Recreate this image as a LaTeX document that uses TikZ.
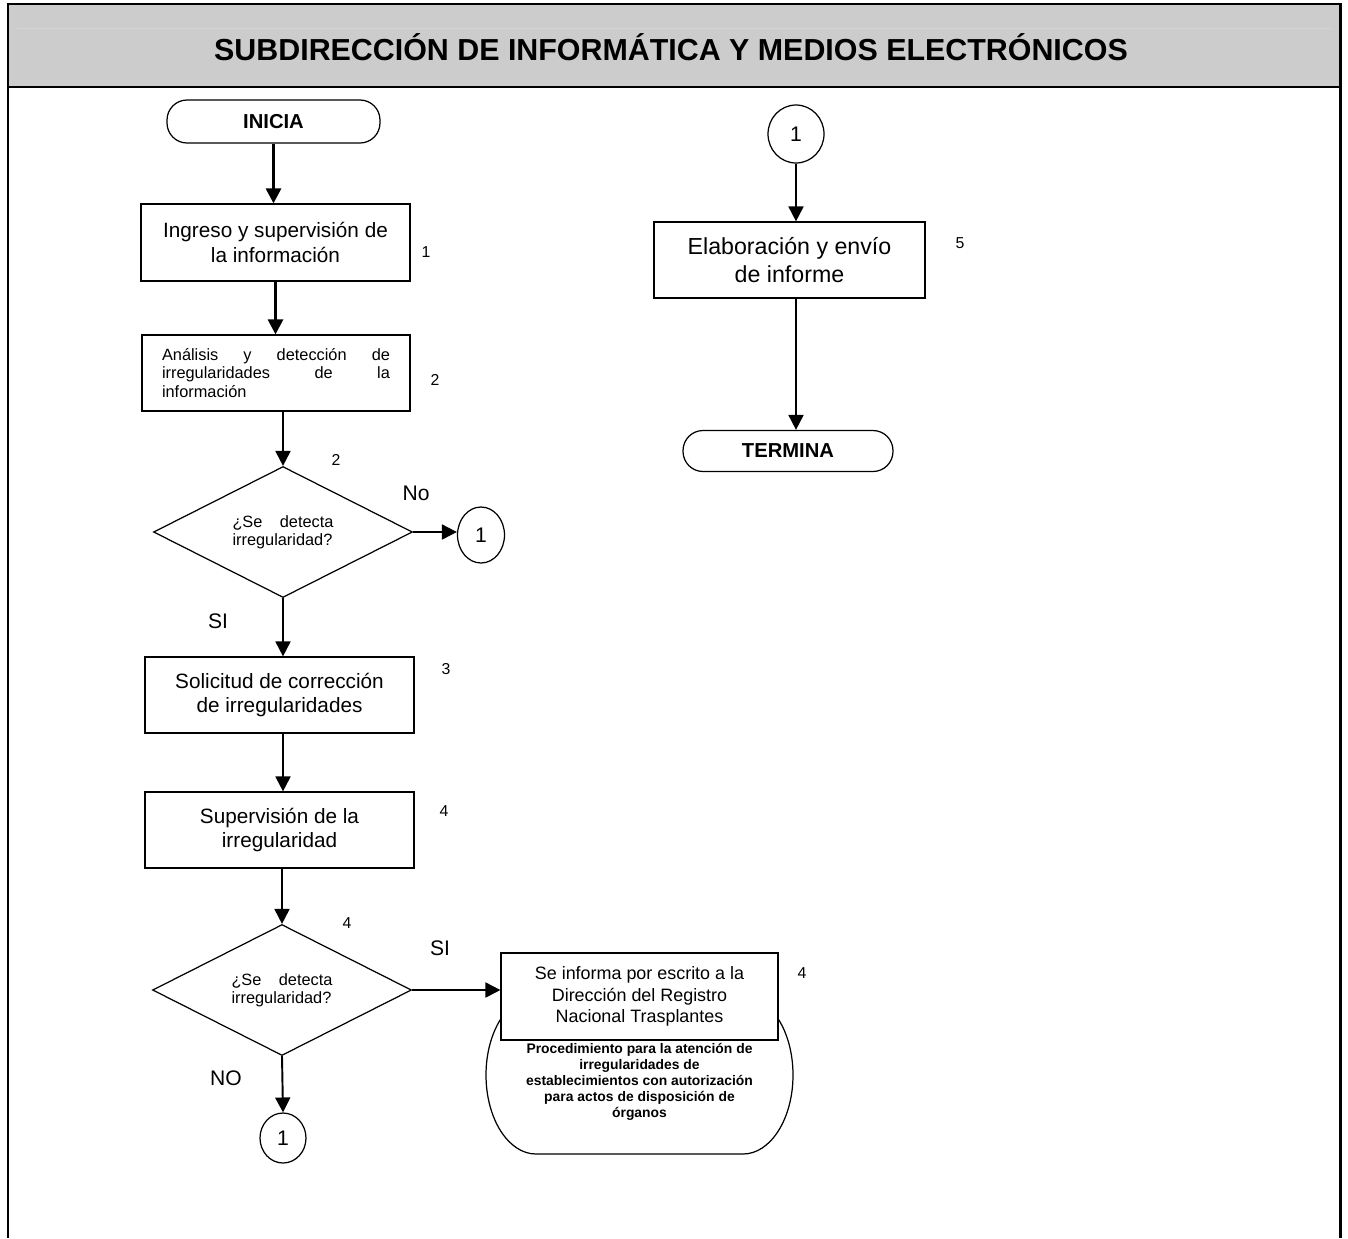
\documentclass[tikz,border=0pt]{standalone}
\usepackage{fontspec}
\setmainfont{Liberation Sans}
\usetikzlibrary{arrows.meta,shapes.geometric}

\begin{document}
\begin{tikzpicture}[x=0.02cm,y=-0.02cm]
\tikzset{proceso/.style = {shape=rectangle,draw,line width=0.7pt,fill=white,align=center,
    font=\fontsize{11.8}{14.2}\selectfont}}
\tikzset{terminal/.style = {shape=rectangle,draw,line width=0.7pt,rounded corners=0.4cm,
    font=\bfseries\fontsize{11.5}{13}\selectfont}}
\tikzset{decision/.style = {shape=diamond,draw,line width=0.7pt,aspect=2,inner sep=0pt,
    minimum width=5.18cm,minimum height=2.62cm,text width=2.02cm,align=justify,
    font=\fontsize{9.3}{10.2}\selectfont}}
\tikzset{conector/.style = {shape=ellipse,draw,line width=0.7pt,inner sep=0pt,
    font=\fontsize{12}{14}\selectfont}}
\tikzset{paso/.style = {font=\fontsize{9}{10}\selectfont}}
\tikzset{rama/.style = {font=\fontsize{12}{14}\selectfont}}
\tikzset{edge/.style = {-{Triangle[length=8.5pt,width=8.5pt]},line width=1.1pt}}
\tikzset{marco/.style = {line width=1.7pt}}

\useasboundingbox (0,0) rectangle (1348,1238);

% encabezado y marco
\fill[black!20] (8,4) rectangle (1340,87);
\draw[black!16,line width=0.5pt] (17,28) -- (1331,28);
\draw[marco] (8,1238) -- (8,4) -- (1340,4) -- (1340,1238);
\draw[marco] (8,87) -- (1340,87);
\node[font=\bfseries\fontsize{17.3}{20}\selectfont] (titulo) at (671,47)
  {SUBDIRECCIÓN DE INFORMÁTICA Y MEDIOS ELECTRÓNICOS};

% columna izquierda
\node[terminal,minimum width=4.26cm,minimum height=0.86cm] (inicia) at (273.5,121.5) {INICIA};
\node[proceso,minimum width=5.38cm,minimum height=1.54cm] (ingreso) at (275.5,242.5)
  {Ingreso y supervisión de\\la información};
\node[proceso,minimum width=5.36cm,minimum height=1.52cm,text width=4.56cm,align=justify,
  font=\fontsize{9.3}{10.7}\selectfont] (analisis) at (276,373)
  {Análisis y detección de\linebreak irregularidades de la\linebreak información};
\node[decision] (detecta) at (283,532) {¿Se detecta\linebreak irregularidad?};
\node[conector,minimum width=0.94cm,minimum height=1.12cm] (conB) at (481,535) {1};
\node[proceso,minimum width=5.38cm,minimum height=1.52cm] (solicitud) at (279.5,695)
  {Solicitud de corrección\\de irregularidades};
\node[proceso,minimum width=5.38cm,minimum height=1.52cm] (supervision) at (279.5,830)
  {Supervisión de la\\irregularidad};
\node[decision] (detecta2) at (282,990) {¿Se detecta\linebreak irregularidad?};
\node[conector,minimum width=0.92cm,minimum height=1.0cm] (conC) at (283,1138) {1};

% procedimiento externo, queda detras del recuadro
\draw[line width=0.7pt] (536,996) -- (743,996)
  arc[start angle=-90,end angle=90,x radius=50,y radius=79] -- (536,1154)
  arc[start angle=90,end angle=270,x radius=50,y radius=79] -- cycle;
\node[font=\bfseries\fontsize{7.9}{9.2}\selectfont,align=center] (proc) at (639.5,1082)
  {Procedimiento para la atención de\\irregularidades de\\establecimientos con autorización\\
   para actos de disposición de\\órganos};
\node[proceso,minimum width=5.54cm,minimum height=1.74cm,font=\fontsize{10.2}{12.2}\selectfont]
  (informa) at (639.5,996.5)
  {Se informa por escrito a la\\Dirección del Registro\\Nacional Trasplantes};

% columna derecha
\node[conector,minimum width=1.12cm,minimum height=1.16cm] (conA) at (796,134) {1};
\node[proceso,minimum width=5.42cm,minimum height=1.52cm,font=\fontsize{13.2}{15.5}\selectfont]
  (elabora) at (789.5,260) {Elaboración y envío\\de informe};
\node[terminal,minimum width=4.2cm,minimum height=0.82cm] (termina) at (788,451) {TERMINA};

% numeros de actividad y ramas
\node[paso] (n1) at (426,252) {1};
\node[paso] (n2) at (435,380) {2};
\node[paso] (n2b) at (336,460) {2};
\node[paso] (n3) at (446,669) {3};
\node[paso] (n4) at (444,811) {4};
\node[paso] (n4b) at (347,923) {4};
\node[paso] (n4c) at (802,973) {4};
\node[paso] (n5) at (960,243) {5};
\node[rama] (no) at (416,493) {No};
\node[rama] (si) at (218,621) {SI};
\node[rama] (si2) at (440,948) {SI};
\node[rama] (no2) at (226,1078) {NO};

% flechas
\draw[edge,line width=1.7pt] (inicia.south) -- (inicia.south |- ingreso.north);
\draw[edge,line width=1.7pt] (ingreso.south) -- (ingreso.south |- analisis.north);
\draw[edge] (detecta.north |- analisis.south) -- (detecta.north);
\draw[edge] (detecta.east) -- (detecta.east -| conB.west);
\draw[edge] (detecta.south) -- (detecta.south |- solicitud.north);
\draw[edge] (detecta.south |- solicitud.south) -- (detecta.south |- supervision.north);
\draw[edge] (detecta2.north |- supervision.south) -- (detecta2.north);
\draw[edge] (detecta2.east) -- (detecta2.east -| informa.west);
\draw[edge] (detecta2.south) -- (conC.north);
\draw[edge] (conA.south) -- (conA.south |- elabora.north);
\draw[edge] (conA.south |- elabora.south) -- (conA.south |- termina.north);
\end{tikzpicture}
\end{document}
